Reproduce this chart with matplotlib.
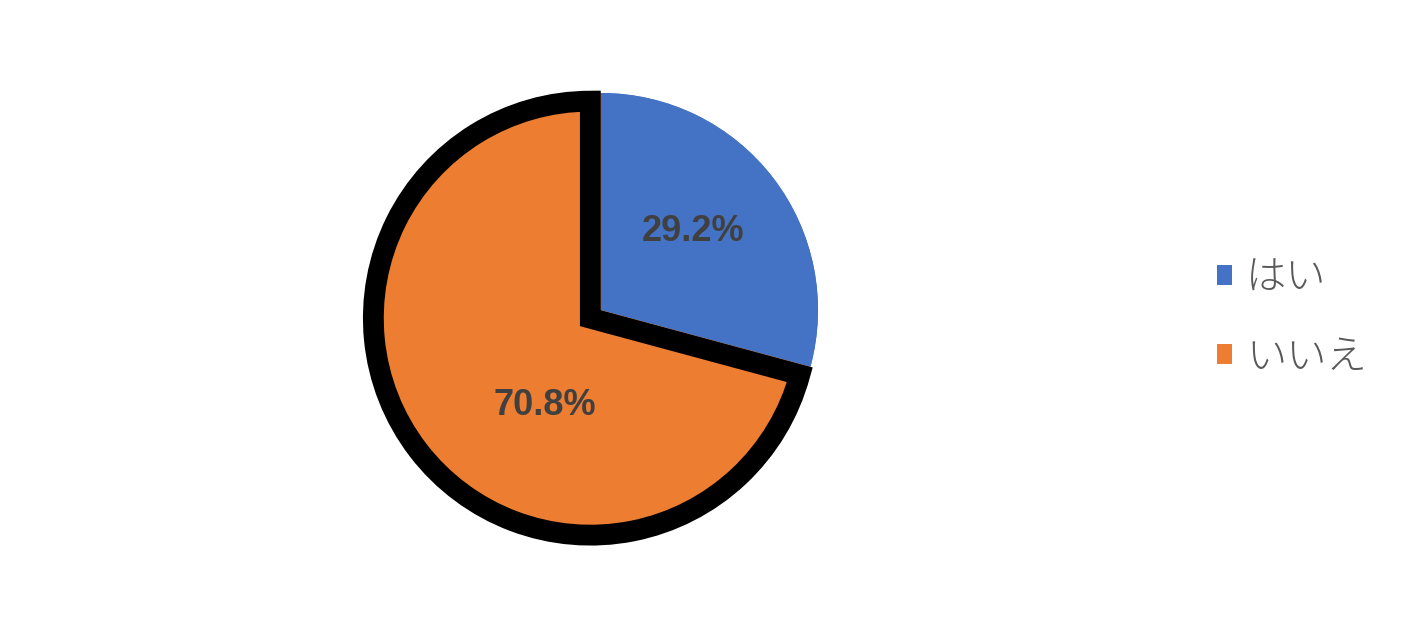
import matplotlib.pyplot as plt
from matplotlib.patches import Patch

plt.rcParams['font.family'] = ['Noto Sans CJK JP', 'DejaVu Sans']

# data
labels = ["はい", "いいえ"]
values = [29.2, 70.8]
colors = ["#4472C4", "#ED7D31"]
explode = [0, 0.062]

fig = plt.figure(figsize=(14.16, 6.33), dpi=100)
ax = fig.add_axes([0.2329, 0.0818, 0.3831, 0.8570])

# un-exploded base pie (leaves the small orange sliver on the right)
ax.pie(values, colors=colors, startangle=90, counterclock=False)

# main pie, orange slice pulled out with a heavy black outline
wedges, texts, autotexts = ax.pie(
    values, colors=colors, explode=explode, startangle=90,
    counterclock=False, autopct="%.1f%%", pctdistance=0.6,
    textprops=dict(family="Liberation Sans", fontsize=26,
                   fontweight="bold", color="#404040"))
wedges[1].set_edgecolor("black")
wedges[1].set_linewidth(15)
wedges[1].set_joinstyle("miter")

# label positions as Excel placed them
autotexts[0].set_position((0.424, 0.36))
autotexts[1].set_position((-0.258, -0.438))

handles = [Patch(facecolor=c, edgecolor="none") for c in colors]
leg = ax.legend(handles, labels, loc="center left",
                bbox_to_anchor=(0.848, 0.4976), bbox_transform=fig.transFigure,
                borderaxespad=0, frameon=False,
                prop=dict(size=29, weight="light"),
                labelcolor="#595959", handlelength=0.37, handleheight=0.37,
                handletextpad=0.35, labelspacing=0.92)

fig.savefig("out.png", dpi=100)
